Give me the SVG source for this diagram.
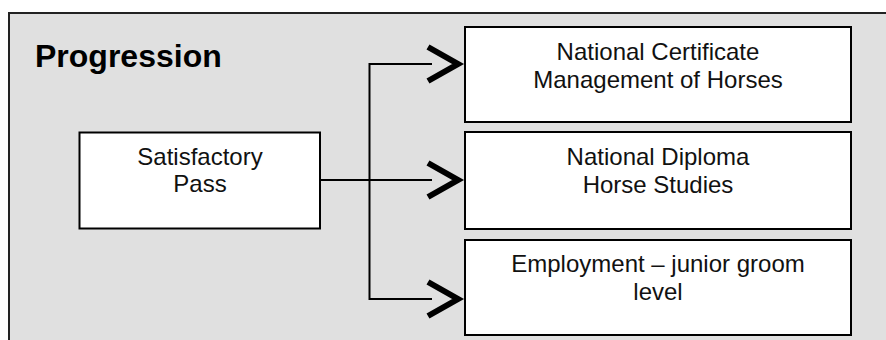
<svg xmlns="http://www.w3.org/2000/svg" width="886" height="340" viewBox="0 0 886 340">
  <style>
    .box { fill: #ffffff; stroke: #000000; stroke-width: 2; }
    .txt { font-family: "Liberation Sans", Arial, sans-serif; font-size: 24px; fill: #111111; text-anchor: middle; }
    .title { font-family: "Liberation Sans", Arial, sans-serif; font-size: 32px; font-weight: bold; fill: #000000; }
    .conn { fill: none; stroke: #000000; stroke-width: 2; }
  </style>
  <defs>
    <marker id="chev" markerUnits="userSpaceOnUse" viewBox="0 0 44 40" markerWidth="44" markerHeight="40" refX="7" refY="19" orient="auto" overflow="visible">
      <polyline points="3,2 33,19 3,36" fill="none" stroke="#000000" stroke-width="6" stroke-linejoin="miter" stroke-miterlimit="10"/>
    </marker>
  </defs>
  <rect x="9" y="13" width="900" height="340" fill="#e0e0e0" stroke="#222222" stroke-width="2"/>
  <text class="title" x="35" y="67">Progression</text>
  <g id="connectors">
    <line class="conn" x1="320" y1="180" x2="432" y2="180" marker-end="url(#chev)"/>
    <polyline class="conn" points="432,64 369.5,64 369.5,299 432,299"/>
    <line class="conn" x1="420" y1="64" x2="432" y2="64" marker-end="url(#chev)"/>
    <line class="conn" x1="420" y1="299" x2="432" y2="299" marker-end="url(#chev)"/>
  </g>
  <g id="node-satisfactory">
    <rect class="box" x="79.5" y="132.5" width="240.5" height="96"/>
    <text class="txt" x="200" y="165">Satisfactory</text>
    <text class="txt" x="200" y="192">Pass</text>
  </g>
  <g id="node-certificate">
    <rect class="box" x="465" y="27" width="386" height="95"/>
    <text class="txt" x="658" y="60">National Certificate</text>
    <text class="txt" x="658" y="88">Management of Horses</text>
  </g>
  <g id="node-diploma">
    <rect class="box" x="465" y="132" width="386" height="97"/>
    <text class="txt" x="658" y="165">National Diploma</text>
    <text class="txt" x="658" y="193">Horse Studies</text>
  </g>
  <g id="node-employment">
    <rect class="box" x="465" y="240" width="386" height="95"/>
    <text class="txt" x="658" y="272">Employment – junior groom</text>
    <text class="txt" x="658" y="300">level</text>
  </g>
</svg>
